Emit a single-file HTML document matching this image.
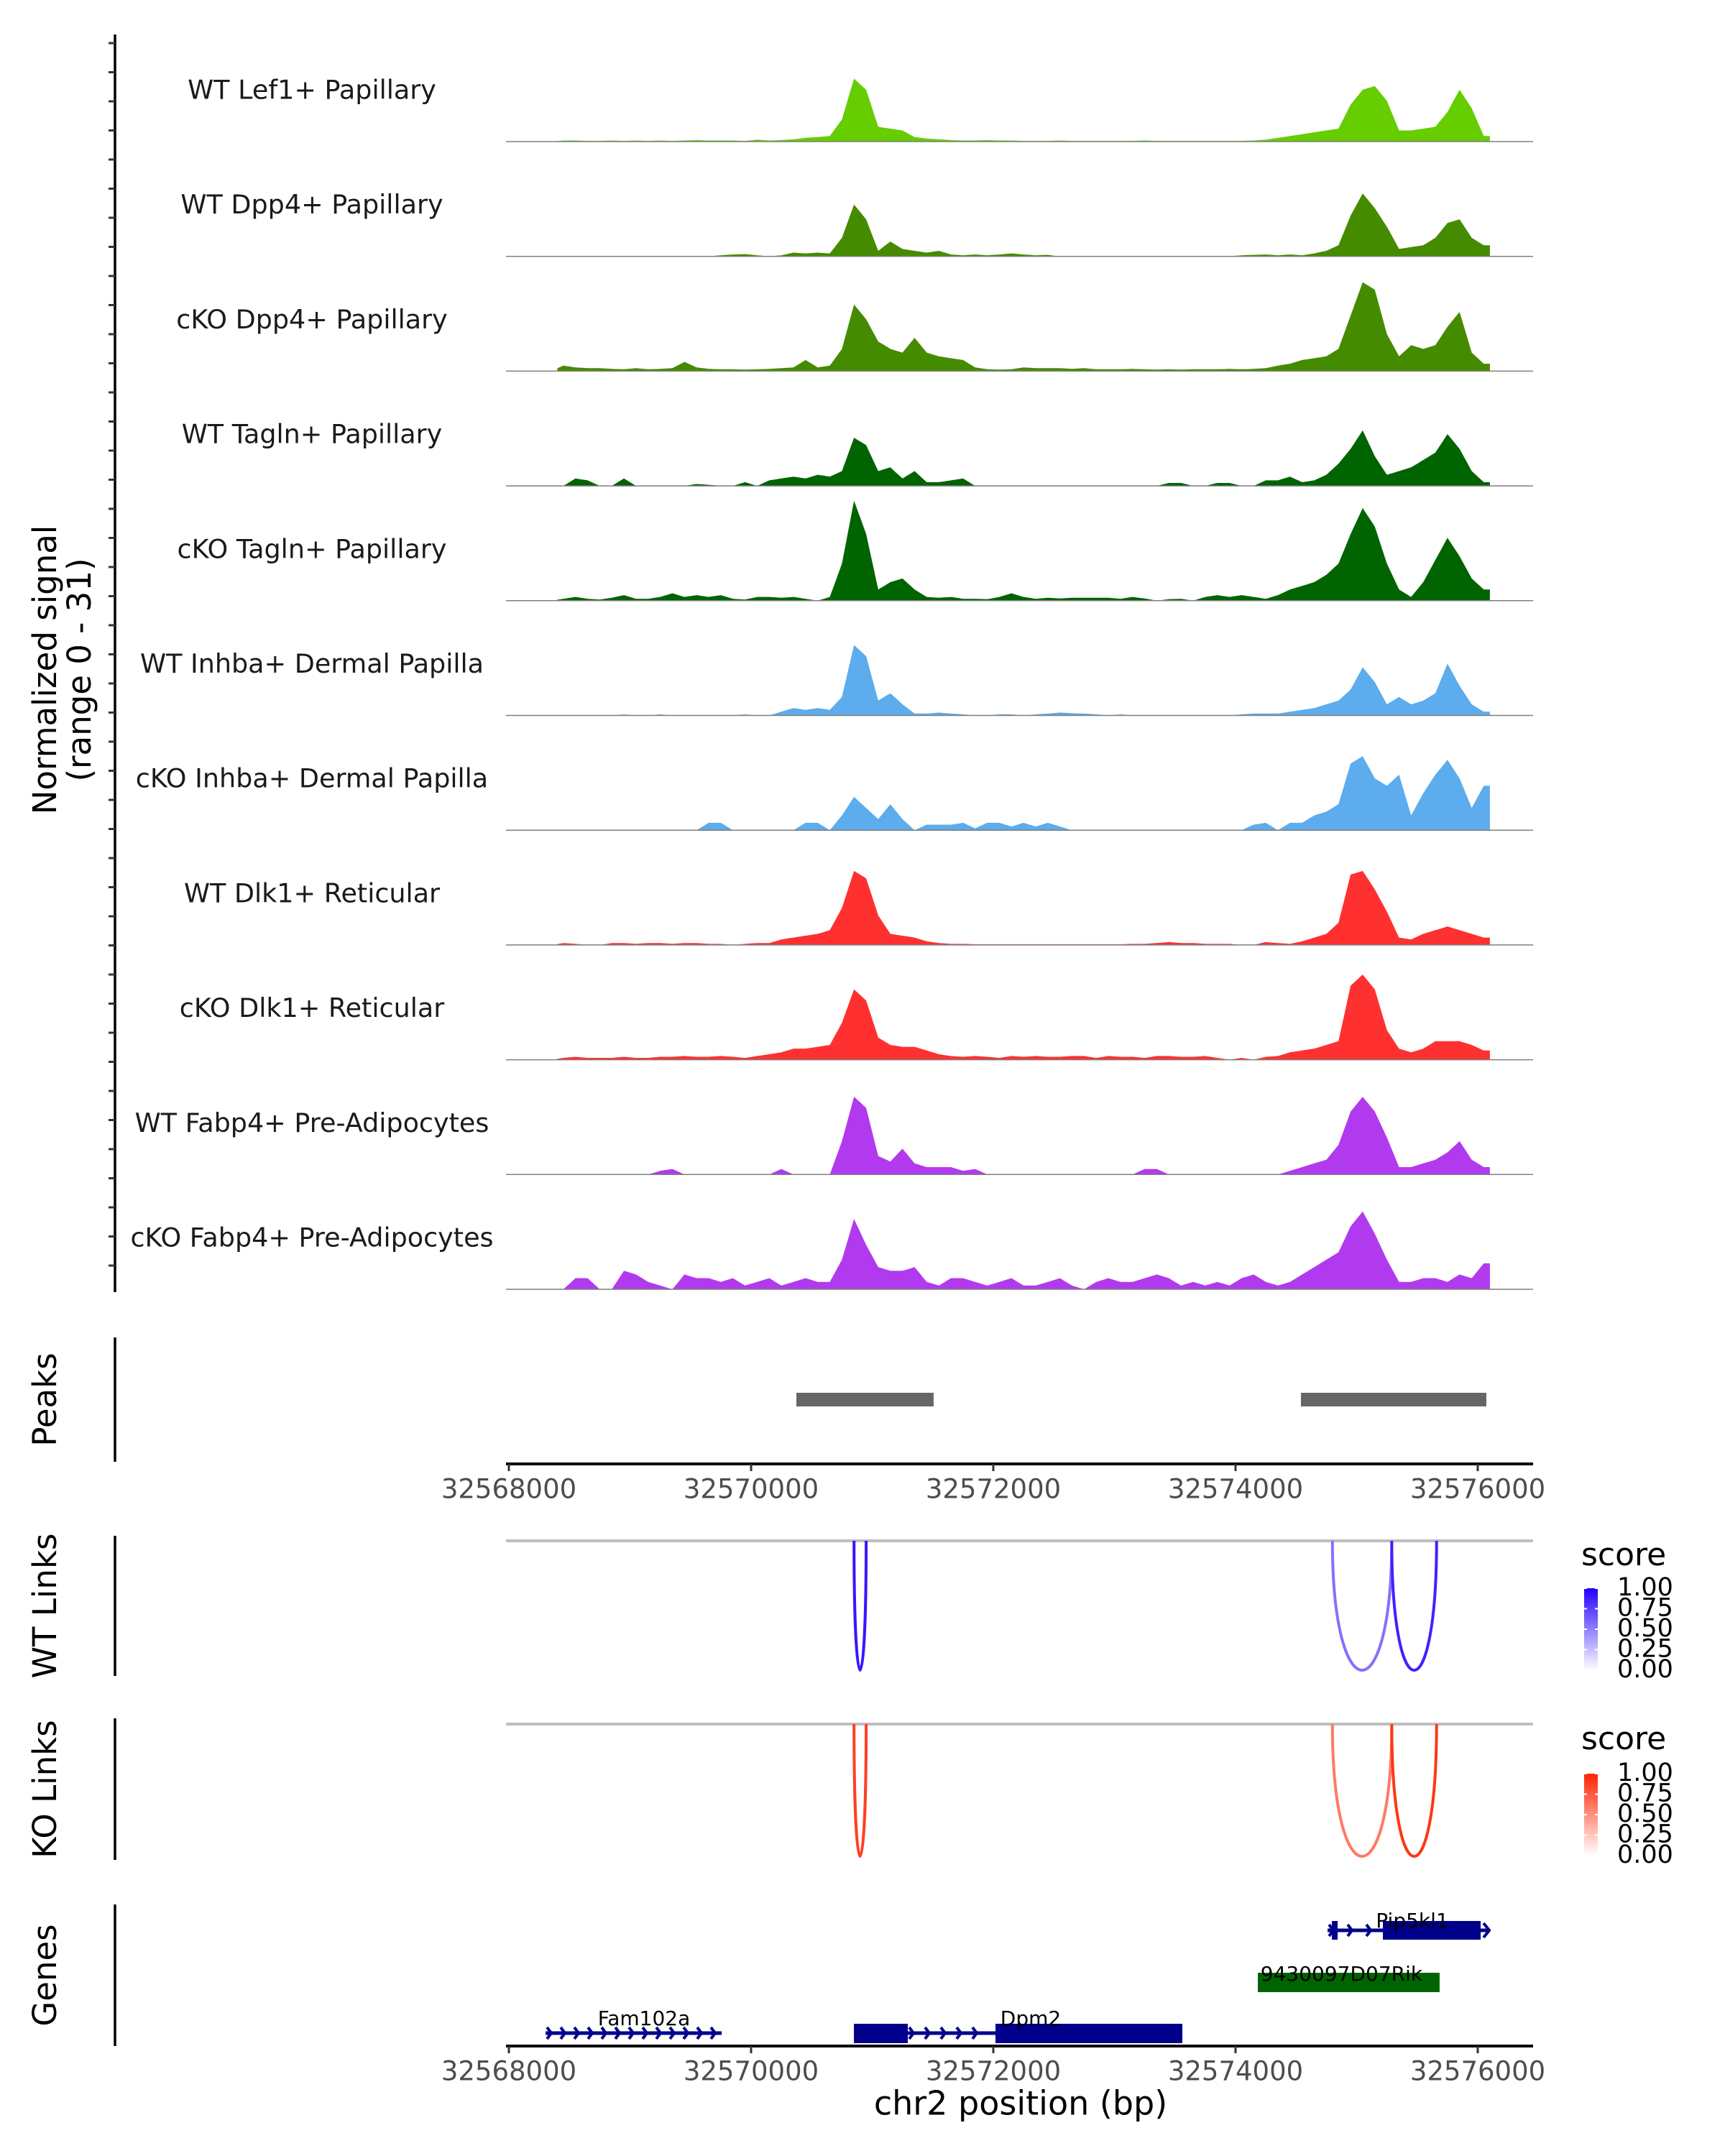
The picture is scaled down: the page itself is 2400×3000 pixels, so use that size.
<!DOCTYPE html>
<html><head><meta charset="utf-8"><style>
html,body{margin:0;padding:0;background:#fff;}
svg{display:block;font-family:"DejaVu Sans","Liberation Sans",sans-serif;}
</style></head><body>
<svg id="fig" width="2400" height="3000" viewBox="0 0 2400 3000" xmlns="http://www.w3.org/2000/svg">
<defs>
<linearGradient id="gWT" x1="0" y1="1" x2="0" y2="0"><stop offset="0" stop-color="#ffffff"/><stop offset="1" stop-color="#2200ff"/></linearGradient>
<linearGradient id="gKO" x1="0" y1="1" x2="0" y2="0"><stop offset="0" stop-color="#ffffff"/><stop offset="1" stop-color="#ff2200"/></linearGradient>
</defs>
<g id="tracks"></g>
<g id="peaks"></g>
<g id="links"></g>
<g id="genes"></g>
<g id="axes"></g>
</svg>
<script>
const NS="http://www.w3.org/2000/svg";
const trackNames=["WT Lef1+ Papillary","WT Dpp4+ Papillary","cKO Dpp4+ Papillary","WT Tagln+ Papillary","cKO Tagln+ Papillary","WT Inhba+ Dermal Papilla","cKO Inhba+ Dermal Papilla","WT Dlk1+ Reticular","cKO Dlk1+ Reticular","WT Fabp4+ Pre-Adipocytes","cKO Fabp4+ Pre-Adipocytes"];
const trackColors=["#66cd00","#458b00","#458b00","#006400","#006400","#5cacee","#5cacee","#ff3030","#ff3030","#b23aee","#b23aee"];
const binStart=32568400, binSize=100;
const sigLef1WT=[0.3,0.3,0.2,0.2,0.3,0.2,0.3,0.2,0.3,0.2, 0.3,0.4,0.3,0.3,0.3,0.2,0.5,0.3,0.4,0.6, 1,1.2,1.5,6,17,14,4,3.5,3,1.2, 0.8,0.6,0.4,0.3,0.3,0.4,0.3,0.3,0.2,0.2, 0.2,0.3,0.2,0.2,0.2,0.2,0.2,0.2,0.3,0.2, 0.2,0.2,0.2,0.2,0.2,0.2,0.2,0.3,0.5,1, 1.5,2,2.5,3,3.5,10,14,15,11,3, 3,3.5,4,8,14,9,1.5];
const sigDpp4WT=[0,0,0,0,0,0,0,0,0,0, 0,0,0,0.3,0.5,0.6,0.3,0,0.3,1, 0.8,1,0.8,5,14,10,1.5,4,2,1.5, 1,1.5,0.5,0.3,0.5,0.3,0.5,0.8,0.5,0.3, 0.4,0,0,0,0,0,0,0,0,0, 0,0,0,0,0,0,0.3,0.4,0.5,0.3, 0.5,0.3,0.8,1.5,3,11,17,13,8,2, 2.5,3,5,9,10,5,3];
const sigDpp4KO=[1.5,1,0.8,0.8,0.6,0.5,0.8,0.5,0.6,0.8, 2.5,1,0.6,0.5,0.5,0.4,0.5,0.6,0.8,1, 3,1,1.5,6,18,14,8,6,5,9, 5,4,3.5,3,1,0.5,0.4,0.5,1,0.8, 0.8,0.8,0.6,0.8,0.5,0.5,0.5,0.6,0.5,0.4, 0.5,0.4,0.5,0.5,0.5,0.6,0.5,0.6,0.8,1.5, 2,3,3.5,4,6,15,24,22,10,4, 7,6,7,12,16,5,2];
const sigTaglnWT=[0,2,1.5,0,0,2,0,0,0,0, 0,0.5,0.3,0,0,1,0,1.5,2,2.5, 2,3,2.5,4,13,11,4,5,2,4, 1,1,1.5,2,0,0,0,0,0,0, 0,0,0,0,0,0,0,0,0,0, 0.8,0.8,0,0,0.8,0.8,0,0,1.5,1.5, 2.5,1,1.5,3,6,10,15,8,3,4, 5,7,9,14,10,4,1];
const sigTaglnKO=[0.5,1,0.5,0.3,0.8,1.5,0.5,0.5,1,2, 1,1.5,1,1.5,0.5,0.3,1,1,0.8,1, 0.5,0,1,10,27,18,3,5,6,3, 1,0.8,1,0.5,0.5,0.4,1,2,1,0.5, 0.8,0.6,0.8,0.8,0.8,0.8,0.5,1,0.6,0, 0.4,0.5,0,1,1.5,1,1.5,1,0.5,1.5, 3,4,5,7,10,18,25,20,10,3, 1,5,11,17,12,6,3];
const sigInhbaWT=[0,0,0,0,0,0.3,0,0,0.3,0, 0,0,0,0,0,0.3,0,0,1,2, 1.5,2,1.5,5,19,16,4,6,3,0.5, 0.5,0.8,0.5,0.3,0,0,0.3,0.3,0,0.3, 0.5,0.8,0.6,0.5,0.3,0,0.3,0,0,0, 0,0,0,0,0,0,0.3,0.5,0.5,0.5, 1,1.5,2,3,4,7,13,9,3,5, 3,4,6,14,8,3,1];
const sigInhbaKO=[0,0,0,0,0,0,0,0,0,0, 0,0,2,2,0,0,0,0,0,0, 2,2,0,4,9,6,3,7,3,0, 1.5,1.5,1.5,2,0.5,2,2,1,2,1, 2,1,0,0,0,0,0,0,0,0, 0,0,0,0,0,0,0,1.5,2,0, 2,2,4,5,7,18,20,14,12,15, 4,10,15,19,14,6,12];
const sigDlk1WT=[0.5,0.3,0,0,0.5,0.5,0.3,0.5,0.5,0.3, 0.5,0.5,0.3,0.3,0,0.3,0.5,0.5,1.5,2, 2.5,3,4,10,20,18,8,3,2.5,2, 1,0.5,0.3,0.3,0.2,0.2,0.2,0.2,0.2,0.2, 0.2,0.2,0.2,0.2,0.2,0.2,0.2,0.3,0.3,0.5, 0.8,0.5,0.5,0.3,0.3,0.3,0,0,0.8,0.5, 0.3,1,2,3,6,19,20,15,9,2, 1.5,3,4,5,4,3,2];
const sigDlk1KO=[0.5,0.8,0.5,0.5,0.5,0.8,0.5,0.5,0.8,0.8, 1,0.8,0.8,1,0.8,0.5,1,1.5,2,3, 3,3.5,4,10,19,16,6,4,3.5,3.5, 2.5,1.5,1,0.8,1,0.8,0.5,1,0.8,1, 0.8,0.8,1,1,0.5,1,0.8,0.8,0.5,1, 1,0.8,0.8,1,0.5,0,0.5,0,0.8,1, 2,2.5,3,4,5,20,23,19,8,3, 2,3,5,5,5,4,2.5];
const sigFabp4WT=[0,0,0,0,0,0,0,0,1,1.5, 0,0,0,0,0,0,0,0,1.5,0, 0,0,0,9,21,18,5,3.5,7,3, 2,2,2,1,1.5,0,0,0,0,0, 0,0,0,0,0,0,0,0,1.5,1.5, 0,0,0,0,0,0,0,0,0,0, 1,2,3,4,8,17,21,17,10,2, 2,3,4,6,9,4,2];
const sigFabp4KO=[0,3,3,0,0,5,4,2,1,0, 4,3,3,2,3,1,2,3,1,2, 3,2,2,8,19,12,6,5,5,6, 2,1,3,3,2,1,2,3,1,1, 2,3,1,0,2,3,2,2,3,4, 3,1,2,1,2,1,3,4,2,1, 2,4,6,8,10,17,21,15,8,2, 2,3,3,2,4,3,7];
const signals=[sigLef1WT,sigDpp4WT,sigDpp4KO,sigTaglnWT,sigTaglnKO,sigInhbaWT,sigInhbaKO,sigDlk1WT,sigDlk1KO,sigFabp4WT,sigFabp4KO];
const xTicks=[32568000,32570000,32572000,32574000,32576000];
const peakStarts=[32570374,32574540];
const peakEnds=[32571507,32576071];
const linkStarts=[32570850,32574800,32575290];
const linkEnds=[32570950,32575290,32575660];
const wtScores=[0.9,0.5,0.85];
const koScores=[0.85,0.55,0.9];
const legendTicks=["1.00","0.75","0.50","0.25","0.00"];
const geneNames=["Fam102a","Dpm2","Pip5kl1","9430097D07Rik"];
const geneStarts=[32568303,32570849,32574760,32574184];
const geneEnds=[32569757,32573561,32576024,32575685];

const X0=708,PXBP=0.1685,XL=704,XR=2133,YMAX=31;
const xs=bp=>X0+(bp-32568000)*PXBP;
function el(tag,attrs,parent,txt){const e=document.createElementNS(NS,tag);for(const k in attrs)e.setAttribute(k,attrs[k]);if(txt!==undefined)e.textContent=txt;parent.appendChild(e);return e;}

const gT=document.getElementById('tracks');
const TH=159.7, B0=197;
signals.forEach((s,k)=>{
  const base=B0+TH*k, ys=v=>base-v/YMAX*TH;
  let d=`M${xs(binStart).toFixed(1)},${base}`;
  s.forEach((v,i)=>{
    const prev=i>0?s[i-1]:0;
    d+=` L${xs(binStart+i*binSize).toFixed(1)},${ys(Math.min(v,prev)*0.5+Math.max(v,prev)*0.5).toFixed(1)}`;
    d+=` L${xs(binStart+(i+0.5)*binSize).toFixed(1)},${ys(v).toFixed(1)}`;
  });
  d+=` L${xs(binStart+s.length*binSize).toFixed(1)},${ys(s[s.length-1]).toFixed(1)} L${xs(binStart+s.length*binSize).toFixed(1)},${base} Z`;
  const p=el('path',{d:d,fill:trackColors[k]},gT);
  
  
  const bl=el('line',{x1:XL,x2:XR,y1:base,y2:base,stroke:'#7f7f7f','stroke-width':1.5},gT);
  
  
  const t=el('text',{x:434,y:base-70,'text-anchor':'middle','dominant-baseline':'middle','font-size':36.5,fill:'#1a1a1a'},gT,trackNames[k]);
  
  
});
// left signal axis
const gA=document.getElementById('axes');
el('line',{x1:160,x2:160,y1:48,y2:1798,stroke:'#000','stroke-width':3.5},gA);
for(let y=60;y<1798;y+=40.5){el('line',{x1:151,x2:160,y1:y,y2:y,stroke:'#333','stroke-width':3},gA);}
const yl=el('text',{transform:'translate(84,932) rotate(-90)','text-anchor':'middle','font-size':45,fill:'#000'},gA);


el('tspan',{x:0,dy:-6},yl,'Normalized signal');
el('tspan',{x:0,dy:48},yl,'(range 0 - 31)');

function xAxis(y,name){
  const g=el('g',{},gA);
  
  
  el('line',{x1:XL,x2:XR,y1:y,y2:y,stroke:'#000','stroke-width':4},g);
  xTicks.forEach(t=>{
    el('line',{x1:xs(t),x2:xs(t),y1:y,y2:y+10,stroke:'#333','stroke-width':3},g);
    el('text',{x:xs(t),y:y+37,'text-anchor':'middle','dominant-baseline':'middle','font-size':37,fill:'#4d4d4d'},g,String(t));
  });
}
function panelTitle(text,y1,y2,name){
  el('line',{x1:160,x2:160,y1:y1,y2:y2,stroke:'#000','stroke-width':3.5},gA);
  const t=el('text',{transform:`translate(66,${(y1+y2)/2}) rotate(-90)`,'text-anchor':'middle','dominant-baseline':'middle','font-size':45,fill:'#000'},gA,text);
  
  
}
// peaks
const gP=document.getElementById('peaks');
panelTitle('Peaks',1861,2034,'peaks-title');
peakStarts.forEach((s,i)=>{
  const r=el('rect',{x:xs(s),y:1938,width:xs(peakEnds[i])-xs(s),height:19,fill:'#666'},gP);
  
  
});
xAxis(2037,'peaks-x-axis');

// links
const gL=document.getElementById('links');
function linkPanel(lineY,bottom,scores,c0,c1,y1,y2,title,name){
  panelTitle(title,y1,y2,name);
  el('line',{x1:XL,x2:XR,y1:lineY,y2:lineY,stroke:'#bebebe','stroke-width':4},gL);
  linkStarts.forEach((s,i)=>{
    const a=xs(s),b=xs(linkEnds[i]),c=lineY+(bottom-lineY)/0.75;
    const sc=scores[i];
    const col=`rgb(${Math.round(c0[0]+(c1[0]-c0[0])*sc)},${Math.round(c0[1]+(c1[1]-c0[1])*sc)},${Math.round(c0[2]+(c1[2]-c0[2])*sc)})`;
    const p=el('path',{d:`M${a},${lineY} C${a},${c} ${b},${c} ${b},${lineY}`,fill:'none',stroke:col,'stroke-width':4},gL);
    
    
  });
}
linkPanel(2144,2324,wtScores,[230,225,255],[34,0,255],2137,2332,'WT Links','wt-links-title');
linkPanel(2399,2583,koScores,[255,230,225],[255,34,0],2391,2588,'KO Links','ko-links-title');
function legend(ty,by,grad,name){
  const g=el('g',{},gL);
  
  
  el('text',{x:2200,y:ty,'dominant-baseline':'middle','font-size':44,fill:'#000'},g,'score');
  el('rect',{x:2204,y:by,width:19,height:114,fill:`url(#${grad})`},g);
  legendTicks.forEach((t,i)=>{
    const y=by+i*114/4;
    el('line',{x1:2204,x2:2208,y1:y,y2:y,stroke:'#fff','stroke-width':2},g);
    el('line',{x1:2219,x2:2223,y1:y,y2:y,stroke:'#fff','stroke-width':2},g);
    el('text',{x:2250,y:y,'dominant-baseline':'middle','font-size':35,fill:'#000'},g,t);
  });
}
legend(2166,2210,'gWT','wt-score-legend');
legend(2422,2468,'gKO','ko-score-legend');

// genes
const gG=document.getElementById('genes');
panelTitle('Genes',2650,2847,'genes-title');
function chevrons(a,b,y,col,step){for(let x=a+8;x<b-4;x+=step){el('path',{d:`M${x-6},${y-8} L${x},${y} L${x-6},${y+8}`,fill:'none',stroke:col,'stroke-width':4},gG);}}
const navy='#00008b';
let ga=xs(geneStarts[0]),gb=xs(geneEnds[0]);
el('line',{x1:ga,x2:gb,y1:2829,y2:2829,stroke:navy,'stroke-width':5},gG);
chevrons(ga,gb+6,2829,navy,19);
el('text',{x:896,y:2818,'text-anchor':'middle','font-size':28,fill:'#000'},gG,geneNames[0]);
ga=xs(geneStarts[1]);gb=xs(geneEnds[1]);
el('line',{x1:ga,x2:gb,y1:2829,y2:2829,stroke:navy,'stroke-width':5},gG);
chevrons(1263,1385,2829,navy,22);
el('rect',{x:ga,y:2816,width:1263-ga,height:27,fill:navy},gG);
el('rect',{x:1385,y:2816,width:gb-1385,height:27,fill:navy},gG);
el('text',{x:1434,y:2818,'text-anchor':'middle','font-size':28,fill:'#000'},gG,geneNames[1]);
ga=xs(geneStarts[2]);gb=xs(geneEnds[2]);
el('line',{x1:ga,x2:gb+12,y1:2686,y2:2686,stroke:navy,'stroke-width':5},gG);
el('rect',{x:ga+6,y:2673,width:8,height:26,fill:navy},gG);
chevrons(ga,1924,2686,navy,26);
el('rect',{x:1924,y:2673,width:gb-1924,height:26,fill:navy},gG);
el('path',{d:`M${gb+4},2676 L${gb+12},2686 L${gb+4},2696`,fill:'none',stroke:navy,'stroke-width':4},gG);
el('text',{x:1965,y:2682,'text-anchor':'middle','font-size':28,fill:'#000'},gG,geneNames[2]);
ga=xs(geneStarts[3]);gb=xs(geneEnds[3]);
el('rect',{x:ga,y:2745,width:gb-ga,height:27,fill:'#006400'},gG);
el('text',{x:(ga+gb)/2-10,y:2756,'text-anchor':'middle','font-size':28,fill:'#000'},gG,geneNames[3]);
xAxis(2847,'genes-x-axis');
const xt=el('text',{x:1420,y:2930,'text-anchor':'middle','dominant-baseline':'middle','font-size':46,fill:'#000'},gA,'chr2 position (bp)');


</script>
</body></html>
